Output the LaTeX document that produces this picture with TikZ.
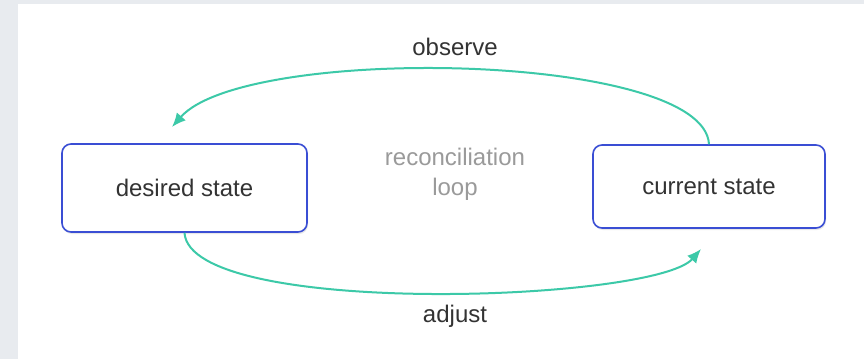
\documentclass[tikz,border=0pt]{standalone}
\usepackage{fontspec}
\setmainfont{Liberation Sans}
\usepackage{xcolor}
\usetikzlibrary{arrows.meta,positioning,shadows}

\definecolor{pagegray}{HTML}{E8EBEF}
\definecolor{boxblue}{HTML}{3A4ED4}
\definecolor{loopteal}{HTML}{3CC9A8}
\definecolor{textdark}{HTML}{333333}
\definecolor{notegray}{HTML}{9A9A9A}

\begin{document}
\begin{tikzpicture}[
    x=1pt, y=-1pt,
    statebox/.style={rectangle, draw=boxblue, line width=1.6pt, rounded corners=9pt,
        fill=white, text=textdark, font=\fontsize{24}{29}\selectfont,
        drop shadow={shadow xshift=1pt, shadow yshift=-2pt, opacity=0.18}},
    label/.style={text=textdark, font=\fontsize{24}{29}\selectfont},
    note/.style={text=notegray, align=center, font=\fontsize{24}{30}\selectfont},
    arrow/.style={-{Latex[length=14pt,width=12pt]}, draw=loopteal, line width=2pt}
]
    % Background
    \useasboundingbox[fill=pagegray] (0,0) rectangle (864,359);
    \fill[white] (18,4) rectangle (864,359);

    % Nodes
    \node[statebox, minimum width=245pt, minimum height=88pt] (desired) at (184.5,188) {desired state};
    \node[statebox, minimum width=232pt, minimum height=83pt] (current) at (709,186.5) {current state};
    \node[note] (loop) at (455,174) {reconciliation\\loop};
    \node[label, anchor=base] (observe) at (455,55) {observe};
    \node[label, anchor=base] (adjust) at (455,322) {adjust};
    \coordinate (obsend) at (172,127);
    \coordinate (adjend) at (701,249);

    % Arrows
    \draw[arrow] (current.north) .. controls (704,52) and (245,44) .. (obsend);
    \draw[arrow] (desired.south) .. controls (190,318) and (655,302) .. (adjend);
\end{tikzpicture}
\end{document}
